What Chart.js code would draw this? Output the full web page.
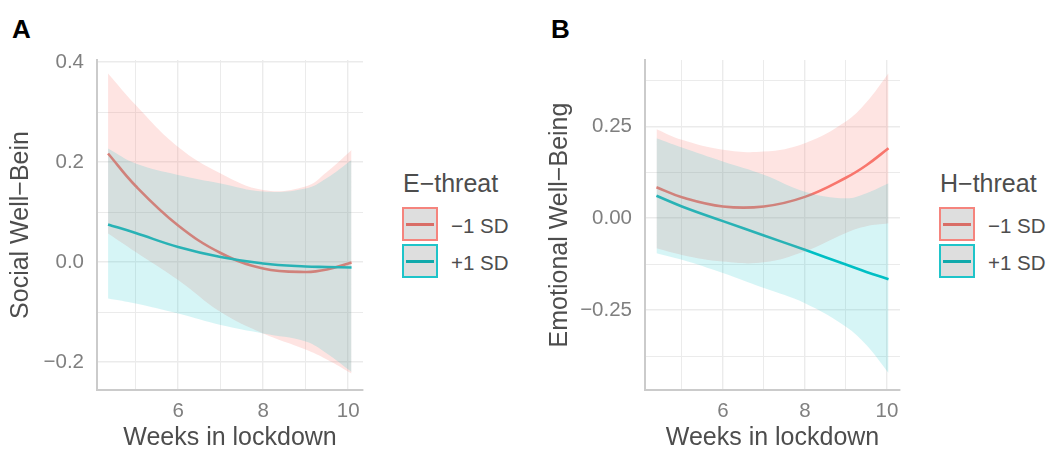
<!DOCTYPE html>
<html>
<head>
<meta charset="utf-8">
<script src="https://cdn.jsdelivr.net/npm/chart.js@4"></script>
<style>
    body { margin: 0; width: 1050px; height: 451px; position: relative; overflow: hidden; background: #fff;
           font-family: 'Liberation Sans', Arial, sans-serif; }
    canvas { position: absolute; top: 0; }
    .tag { position: absolute; font-weight: bold; font-size: 26px; line-height: 1; color: #000; }
    .ltitle { position: absolute; font-size: 25px; line-height: 1; color: #4d4d4d; white-space: nowrap; }
    .llabel { position: absolute; font-size: 20.5px; line-height: 1; color: #4d4d4d; white-space: nowrap; }
    .key { position: absolute; box-sizing: border-box; width: 36px; height: 34px; background: #dedede; border: 2px solid; }
    .key div { position: absolute; left: 2px; right: 2px; top: 14px; height: 3px; }
</style>
</head>
<body>
<div class="tag" style="left:12px; top:16px">A</div>
<div class="tag" style="left:551px; top:16px">B</div>

<canvas id="chartA" width="370" height="451" style="left:0"></canvas>
<canvas id="chartB" width="370" height="451" style="left:540px"></canvas>

<!-- legends -->
<div class="ltitle" style="left:403px; top:171px">E−threat</div>
<div class="key" style="left:402px; top:207px; border-color:#f5847d"><div style="background:#d96d66"></div></div>
<div class="key" style="left:402px; top:244px; border-color:#1fc4c9"><div style="background:#11a9ab"></div></div>
<div class="llabel" style="left:451px; top:216px">−1 SD</div>
<div class="llabel" style="left:451px; top:253px">+1 SD</div>

<div class="ltitle" style="left:940px; top:171px">H−threat</div>
<div class="key" style="left:939px; top:207px; border-color:#f5847d"><div style="background:#d96d66"></div></div>
<div class="key" style="left:939px; top:244px; border-color:#1fc4c9"><div style="background:#11a9ab"></div></div>
<div class="llabel" style="left:988px; top:216px">−1 SD</div>
<div class="llabel" style="left:988px; top:253px">+1 SD</div>

<script>
// panel A: social well-being, E-threat
var weeksA = [4.35, 5, 6, 7, 8, 9, 9.5, 10.08];
var lowSdA = [0.217, 0.152, 0.073, 0.018, -0.013, -0.020, -0.015, -0.001];
var highSdA = [0.075, 0.058, 0.030, 0.010, -0.003, -0.009, -0.010, -0.011];
var lowSdUpperA = [0.377, 0.314, 0.230, 0.177, 0.144, 0.151, 0.180, 0.224];
var lowSdLowerA = [0.057, 0.020, -0.036, -0.100, -0.143, -0.175, -0.195, -0.223];
var highSdUpperA = [0.227, 0.197, 0.174, 0.157, 0.141, 0.147, 0.168, 0.204];
var highSdLowerA = [-0.073, -0.083, -0.103, -0.126, -0.143, -0.159, -0.183, -0.220];
var yMajorA = [-0.2, 0, 0.2, 0.4];
var yMinorA = [-0.1, 0.1, 0.3];

// panel B: emotional well-being, H-threat
var weeksB = [4.38, 5, 6, 7, 8, 9, 9.5, 10.04];
var lowSdB = [0.084, 0.057, 0.032, 0.032, 0.058, 0.110, 0.144, 0.190];
var highSdB = [0.061, 0.032, -0.008, -0.047, -0.086, -0.126, -0.146, -0.166];
var lowSdUpperB = [0.242, 0.213, 0.186, 0.181, 0.204, 0.263, 0.315, 0.394];
var lowSdLowerB = [-0.082, -0.100, -0.118, -0.120, -0.090, -0.040, -0.022, -0.014];
var highSdUpperB = [0.217, 0.192, 0.154, 0.118, 0.072, 0.054, 0.068, 0.095];
var highSdLowerB = [-0.095, -0.113, -0.149, -0.190, -0.231, -0.295, -0.345, -0.421];
var yMajorB = [-0.25, 0, 0.25];
var yMinorB = [-0.375, -0.125, 0.125, 0.375];

var xMajor = [6, 8, 10];
var xMinor = [5, 7, 9];

var RED = '#f8766d', TEAL = '#00bfc4';

function pts(xs, ys) {
    return xs.map(function (x, i) { return { x: x, y: ys[i] }; });
}

function fmt(v, digits) {
    var s = Math.abs(v).toFixed(digits);
    return (v < -1e-9 ? '\u2212' : '') + s;
}

function isIn(list, v) {
    return list.some(function (m) { return Math.abs(m - v) < 1e-6; });
}

function makeChart(id, cfg) {
    var ctx = document.getElementById(id).getContext('2d');
    var line = { pointRadius: 0, tension: 0.4, fill: false };
    var band = { pointRadius: 0, tension: 0.4, borderWidth: 0, borderColor: 'rgba(0,0,0,0)' };
    return new Chart(ctx, {
        type: 'line',
        data: {
            datasets: [
                Object.assign({ data: pts(cfg.weeks, cfg.highUpper), order: 0, fill: false }, band),
                Object.assign({ data: pts(cfg.weeks, cfg.highLower), order: 1, fill: '-1',
                                backgroundColor: 'rgba(0,191,196,0.16)' }, band),
                Object.assign({ data: pts(cfg.weeks, cfg.lowUpper), order: 2, fill: false }, band),
                Object.assign({ data: pts(cfg.weeks, cfg.lowLower), order: 3, fill: '-1',
                                backgroundColor: 'rgba(248,118,109,0.2)' }, band),
                Object.assign({ data: pts(cfg.weeks, cfg.high), order: 4, borderColor: TEAL, borderWidth: 2.6 }, line),
                Object.assign({ data: pts(cfg.weeks, cfg.low), order: 5, borderColor: RED, borderWidth: 2.6 }, line)
            ]
        },
        options: {
            responsive: false,
            animation: false,
            events: [],
            devicePixelRatio: 1,
            layout: { padding: { top: 60, right: cfg.padRight, left: 0, bottom: 0 } },
            plugins: { legend: { display: false }, tooltip: { enabled: false } },
            scales: {
                x: {
                    type: 'linear',
                    min: cfg.xMin,
                    max: cfg.xMax,
                    afterBuildTicks: function (s) {
                        s.ticks = xMajor.concat(xMinor).map(function (v) { return { value: v }; });
                    },
                    afterFit: function (s) { s.height = 61; },
                    ticks: {
                        autoSkip: false,
                        maxRotation: 0,
                        padding: 9,
                        color: '#7f7f7f',
                        font: { family: 'Liberation Sans', size: 20.5 },
                        callback: function (v) { return isIn(xMajor, v) ? String(v) : ''; }
                    },
                    grid: {
                        color: '#ebebeb',
                        drawTicks: false,
                        lineWidth: function (c) { return c.tick && isIn(xMajor, c.tick.value) ? 1.4 : 1; }
                    },
                    border: { display: true, color: '#cbcbcb', width: 2 },
                    title: {
                        display: true,
                        text: 'Weeks in lockdown',
                        color: '#4d4d4d',
                        padding: { top: 0, bottom: 0 },
                        font: { family: 'Liberation Sans', size: 25, lineHeight: 1 }
                    }
                },
                y: {
                    type: 'linear',
                    min: cfg.yMin,
                    max: cfg.yMax,
                    afterBuildTicks: function (s) {
                        s.ticks = cfg.yMajor.concat(cfg.yMinor).sort(function (a, b) { return a - b; })
                            .map(function (v) { return { value: v }; });
                    },
                    afterFit: function (s) { s.width = cfg.yWidth; },
                    ticks: {
                        autoSkip: false,
                        padding: 13,
                        color: '#7f7f7f',
                        font: { family: 'Liberation Sans', size: 20.5 },
                        callback: function (v) { return isIn(cfg.yMajor, v) ? fmt(v, cfg.digits) : ''; }
                    },
                    grid: {
                        color: '#ebebeb',
                        drawTicks: false,
                        lineWidth: function (c) { return c.tick && isIn(cfg.yMajor, c.tick.value) ? 1.4 : 1; }
                    },
                    border: { display: true, color: '#cbcbcb', width: 2 },
                    title: {
                        display: true,
                        text: cfg.yTitle,
                        color: '#4d4d4d',
                        padding: { top: cfg.titlePad, bottom: 0 },
                        font: { family: 'Liberation Sans', size: 25, lineHeight: 1 }
                    }
                }
            }
        }
    });
}

makeChart('chartA', {
    weeks: weeksA, low: lowSdA, high: highSdA,
    lowUpper: lowSdUpperA, lowLower: lowSdLowerA,
    highUpper: highSdUpperA, highLower: highSdLowerA,
    xMin: 4.09, xMax: 10.35, yMin: -0.256, yMax: 0.404,
    yMajor: yMajorA, yMinor: yMinorA, digits: 1,
    yTitle: 'Social Well\u2212Bein', yWidth: 97, padRight: 7, titlePad: 9
});

makeChart('chartB', {
    weeks: weeksB, low: lowSdB, high: highSdB,
    lowUpper: lowSdUpperB, lowLower: lowSdLowerB,
    highUpper: highSdUpperB, highLower: highSdLowerB,
    xMin: 4.1, xMax: 10.32, yMin: -0.467, yMax: 0.430,
    yMajor: yMajorB, yMinor: yMinorB, digits: 2,
    yTitle: 'Emotional Well\u2212Being', yWidth: 105, padRight: 10, titlePad: 8
});
</script>
</body>
</html>
